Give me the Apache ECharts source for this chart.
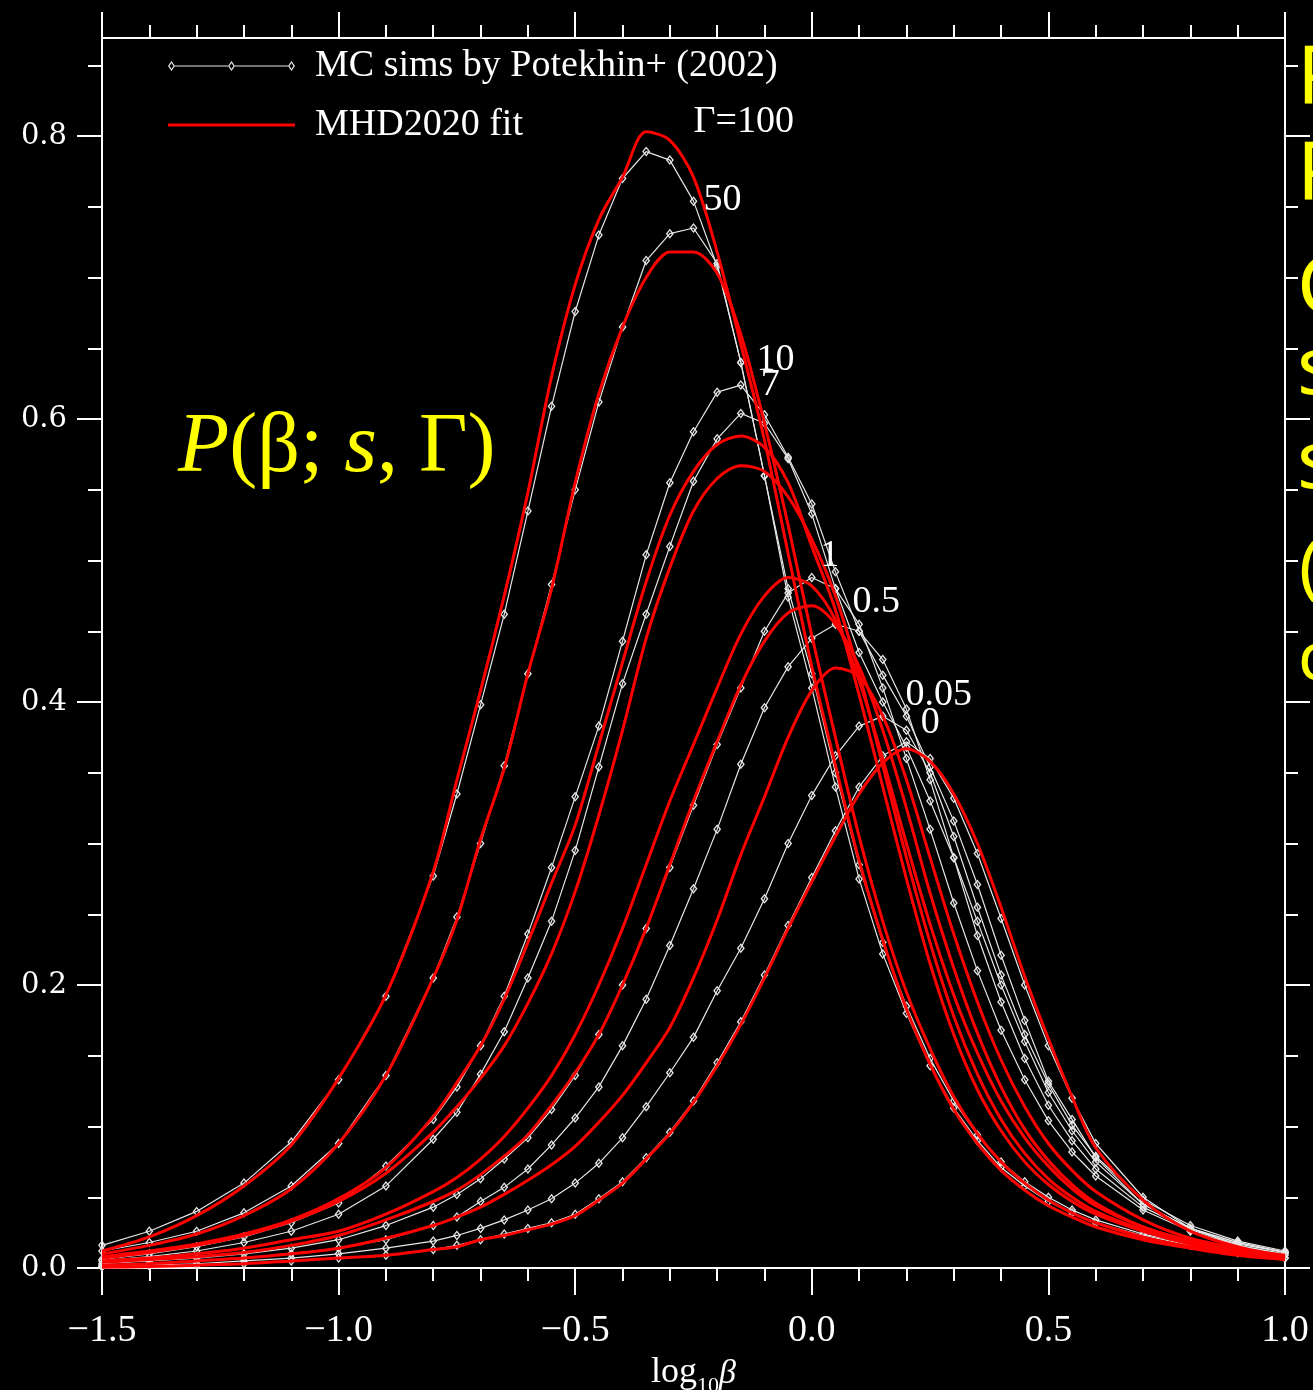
<!DOCTYPE html>
<html><head><meta charset="utf-8">
<script src="https://cdn.jsdelivr.net/npm/echarts@6/dist/echarts.min.js"></script>
<style>html,body{margin:0;padding:0;background:#000;}#c{width:1313px;height:1390px;}</style>
</head><body><div id="c"></div>
<script>
// shared abscissa grid: log10(beta)
const logBeta = [-1.5,-1.4,-1.3,-1.2,-1.1,-1.0,-0.9,-0.8,-0.75,-0.7,-0.65,-0.6,-0.55,-0.5,-0.45,-0.4,-0.35,-0.3,-0.25,-0.2,-0.15,-0.1,-0.05,0,0.05,0.1,0.15,0.2,0.25,0.3,0.35,0.4,0.45,0.5,0.55,0.6,0.7,0.8,0.9,1.0];

// MC simulations (Potekhin+ 2002)
const mc100 = [0.016,0.026,0.040,0.060,0.089,0.133,0.192,0.277,0.335,0.398,0.462,0.535,0.609,0.676,0.730,0.770,0.789,0.783,0.754,0.708,0.640,0.560,0.474,0.410,0.340,0.275,0.222,0.180,0.143,0.113,0.090,0.071,0.058,0.047,0.039,0.032,0.023,0.016,0.011,0.007];
const mc50  = [0.012,0.018,0.026,0.039,0.058,0.088,0.136,0.205,0.248,0.300,0.355,0.420,0.483,0.550,0.612,0.665,0.712,0.731,0.735,0.710,0.640,0.560,0.480,0.420,0.350,0.285,0.230,0.185,0.148,0.118,0.094,0.075,0.061,0.050,0.041,0.034,0.024,0.017,0.011,0.007];
const mc10  = [0.006,0.010,0.015,0.022,0.032,0.046,0.072,0.105,0.128,0.157,0.192,0.236,0.283,0.333,0.383,0.443,0.504,0.555,0.591,0.619,0.624,0.603,0.573,0.540,0.492,0.450,0.419,0.390,0.354,0.316,0.271,0.221,0.175,0.132,0.105,0.078,0.045,0.028,0.018,0.011];
const mc7   = [0.005,0.008,0.012,0.018,0.026,0.038,0.058,0.091,0.110,0.137,0.167,0.205,0.245,0.295,0.354,0.413,0.462,0.510,0.556,0.586,0.604,0.597,0.572,0.533,0.480,0.435,0.400,0.368,0.330,0.290,0.245,0.200,0.160,0.124,0.097,0.075,0.045,0.028,0.018,0.011];
const mc1   = [0.003,0.005,0.007,0.010,0.014,0.020,0.030,0.043,0.052,0.063,0.077,0.092,0.112,0.136,0.165,0.200,0.240,0.283,0.327,0.370,0.410,0.450,0.477,0.488,0.480,0.455,0.410,0.360,0.310,0.258,0.210,0.168,0.133,0.104,0.082,0.065,0.041,0.026,0.016,0.010];
const mc05  = [0.002,0.003,0.005,0.007,0.010,0.014,0.020,0.030,0.036,0.047,0.057,0.070,0.087,0.106,0.128,0.157,0.190,0.228,0.268,0.310,0.356,0.396,0.425,0.445,0.455,0.450,0.430,0.395,0.345,0.290,0.235,0.188,0.148,0.115,0.090,0.070,0.043,0.027,0.017,0.011];
const mc005 = [0.001,0.002,0.003,0.005,0.007,0.010,0.014,0.019,0.023,0.028,0.034,0.041,0.049,0.060,0.074,0.092,0.114,0.138,0.163,0.196,0.226,0.261,0.300,0.334,0.362,0.383,0.390,0.380,0.350,0.305,0.255,0.207,0.165,0.130,0.101,0.079,0.048,0.030,0.019,0.012];
const mc0   = [0.001,0.0015,0.002,0.003,0.005,0.007,0.009,0.013,0.016,0.020,0.024,0.028,0.032,0.038,0.049,0.061,0.078,0.096,0.118,0.145,0.174,0.207,0.242,0.276,0.309,0.340,0.362,0.372,0.360,0.332,0.293,0.247,0.200,0.157,0.120,0.088,0.050,0.028,0.016,0.009];

// MHD2020 fit
const fit100 = [0.012,0.022,0.037,0.058,0.087,0.134,0.193,0.280,0.345,0.408,0.475,0.548,0.630,0.695,0.741,0.771,0.803,0.797,0.771,0.718,0.653,0.585,0.505,0.425,0.355,0.288,0.232,0.183,0.144,0.112,0.088,0.069,0.055,0.044,0.036,0.029,0.020,0.014,0.009,0.006];
const fit50  = [0.010,0.016,0.024,0.037,0.056,0.088,0.136,0.205,0.246,0.303,0.353,0.420,0.480,0.555,0.618,0.665,0.700,0.718,0.718,0.703,0.660,0.597,0.525,0.447,0.375,0.305,0.245,0.195,0.155,0.121,0.095,0.075,0.060,0.048,0.039,0.032,0.022,0.015,0.010,0.006];
const fit10  = [0.008,0.012,0.017,0.024,0.034,0.049,0.071,0.107,0.131,0.157,0.190,0.230,0.272,0.313,0.370,0.428,0.485,0.532,0.563,0.582,0.588,0.580,0.555,0.510,0.465,0.405,0.340,0.275,0.215,0.165,0.126,0.097,0.075,0.059,0.047,0.038,0.026,0.017,0.011,0.007];
const fit7   = [0.007,0.011,0.016,0.023,0.033,0.047,0.067,0.096,0.114,0.134,0.157,0.187,0.222,0.266,0.320,0.380,0.445,0.495,0.535,0.558,0.567,0.563,0.545,0.515,0.475,0.420,0.355,0.290,0.230,0.178,0.137,0.105,0.081,0.063,0.050,0.040,0.027,0.018,0.012,0.007];
const fit1   = [0.005,0.007,0.010,0.014,0.020,0.026,0.038,0.054,0.064,0.077,0.093,0.113,0.136,0.165,0.200,0.240,0.285,0.330,0.370,0.410,0.448,0.475,0.488,0.482,0.458,0.415,0.360,0.300,0.243,0.193,0.152,0.118,0.092,0.072,0.056,0.044,0.029,0.019,0.012,0.007];
const fit05  = [0.004,0.006,0.008,0.011,0.016,0.023,0.034,0.047,0.055,0.066,0.079,0.094,0.115,0.138,0.165,0.200,0.240,0.285,0.330,0.372,0.412,0.443,0.463,0.468,0.455,0.425,0.380,0.325,0.265,0.212,0.166,0.128,0.098,0.076,0.059,0.046,0.029,0.019,0.012,0.008];
const fit005 = [0.002,0.003,0.005,0.007,0.010,0.014,0.021,0.030,0.036,0.043,0.052,0.062,0.073,0.086,0.103,0.122,0.145,0.170,0.205,0.246,0.292,0.333,0.375,0.408,0.424,0.418,0.390,0.345,0.290,0.236,0.188,0.147,0.114,0.088,0.069,0.054,0.034,0.021,0.014,0.009];
const fit0   = [0.0005,0.001,0.002,0.003,0.005,0.007,0.009,0.013,0.015,0.020,0.023,0.027,0.031,0.037,0.048,0.060,0.077,0.095,0.117,0.143,0.172,0.205,0.240,0.273,0.305,0.335,0.357,0.367,0.358,0.335,0.300,0.255,0.206,0.162,0.121,0.085,0.048,0.026,0.015,0.008];

// curve annotations (Gamma values)
const annText = ['Γ=100','50','10','7','1','0.5','0.05','0'];
const annX = [-0.251,-0.230,-0.118,-0.109,0.017,0.085,0.197,0.229];
const annY = [0.810,0.755,0.642,0.624,0.503,0.471,0.405,0.385];

// axis ticks
const xMajor = 0.5;
const yMajorTicks = [0,0.2,0.4,0.6,0.8];
const yMinorTicks = [0.05,0.1,0.15,0.25,0.3,0.35,0.45,0.5,0.55,0.65,0.7,0.75,0.85];
const yMax = 0.8693;

const MC_NAME = 'MC sims by Potekhin+ (2002)';
const FIT_NAME = 'MHD2020 fit';
const mcSets = [mc100, mc50, mc10, mc7, mc1, mc05, mc005, mc0];
const fitSets = [fit100, fit50, fit10, fit7, fit1, fit05, fit005, fit0];

const hollowDiamond = 'path://M0,-5L3.5,0L0,5L-3.5,0Z M0,-3L-2,0L0,3L2,0Z';
const pair = arr => arr.map((v,i) => [logBeta[i], v]);
const series = [];
mcSets.forEach(arr => series.push({
  type:'line', name: MC_NAME, data: pair(arr), xAxisIndex:0, yAxisIndex:0,
  symbol: hollowDiamond, symbolSize:[8,10], showAllSymbol:true,
  lineStyle:{color:'#e6e6e6', width:1.2}, itemStyle:{color:'#e6e6e6'},
  z:2, animation:false
}));
fitSets.forEach(arr => series.push({
  type:'line', name: FIT_NAME, data: pair(arr), xAxisIndex:0, yAxisIndex:0,
  symbol:'none', smooth:0.3,
  lineStyle:{color:'#ff0000', width:3}, itemStyle:{color:'#ff0000'},
  z:3, animation:false
}));
series.push({
  type:'scatter', name:'ann', symbolSize:1, z:5, animation:false, silent:true,
  itemStyle:{color:'rgba(0,0,0,0)', opacity:1},
  data: annText.map((t,i) => ({value:[annX[i], annY[i]], name:t})),
  label:{show:true, position:'right', distance:0, formatter:p=>p.name, opacity:1,
    color:'#ffffff', fontFamily:'Liberation Serif', fontSize:38}
});

const axisLine = {show:true, onZero:false, lineStyle:{color:'#ffffff', width:2}};
const noLine = {show:false, onZero:false};
const xBase = {type:'value', min:-1.5, max:1.0, interval:xMajor, splitLine:{show:false}};
const yBase = {type:'value', min:0, max:yMax, splitLine:{show:false}};

// legend icons (thin red line; white line with three hollow diamonds)
const iconFit = 'path://M0,0L0.01,0L0.01,0.01Z M0,3.5L127,3.5L127,6.5L0,6.5Z M0,10L0.01,10L0.01,9.99Z';
const dia = x => `M${x},0L${x+3.5},5L${x},10L${x-3.5},5Z M${x},2L${x-2},5L${x},8L${x+2},5Z`;
const iconMC = 'path://' + dia(3.5) + ' ' + dia(63.5) + ' ' + dia(123.5) +
  ' M7,4.4L60,4.4L60,5.6L7,5.6Z M67,4.4L120,4.4L120,5.6L67,5.6Z';

const option = {
  backgroundColor:'#000000',
  animation:false,
  grid:{left:102, right:28, top:38, bottom:122, containLabel:false, outerBoundsMode:'none'},
  legend:{
    data:[{name:MC_NAME, icon:iconMC},{name:FIT_NAME, icon:iconFit}],
    orient:'vertical', left:168, top:47, padding:0, itemWidth:127, itemHeight:10, itemGap:21,
    selectedMode:false,
    textStyle:{color:'#ffffff', fontFamily:'Liberation Serif', fontSize:38, lineHeight:38, padding:[0,0,0,15]}
  },
  xAxis:[
    Object.assign({}, xBase, {position:'bottom', axisLine,
      axisTick:{show:true, inside:false, length:27, lineStyle:{color:'#fff', width:2}},
      minorTick:{show:true, splitNumber:5, length:13, lineStyle:{color:'#fff', width:2}},
      axisLabel:{show:true, margin:44, color:'#ffffff', fontFamily:'Liberation Serif', fontSize:38,
        formatter:v => (v < 0 ? '\u2212' : '') + Math.abs(v).toFixed(1)},
      name:'{a|log}{b|10}{c|β}', nameLocation:'middle', nameGap:70,
      nameTextStyle:{color:'#fff', rich:{
        a:{fontFamily:'Liberation Serif', fontSize:36, color:'#fff', verticalAlign:'bottom', lineHeight:40},
        b:{fontFamily:'Liberation Serif', fontSize:22, color:'#fff', verticalAlign:'bottom', lineHeight:40, padding:[0,0,-6,0]},
        c:{fontFamily:'Liberation Serif', fontSize:34, fontStyle:'italic', color:'#fff', verticalAlign:'bottom', lineHeight:40}
      }}
    }),
    Object.assign({}, xBase, {position:'top', axisLine,
      axisTick:{show:true, inside:false, length:26, lineStyle:{color:'#fff', width:2}},
      minorTick:{show:true, splitNumber:5, length:13, lineStyle:{color:'#fff', width:2}},
      axisLabel:{show:false}})
  ],
  yAxis:[
    Object.assign({}, yBase, {position:'left', axisLine,
      axisTick:{show:true, inside:false, length:25, customValues:yMajorTicks, lineStyle:{color:'#fff', width:2}},
      axisLabel:{show:true, margin:35, customValues:yMajorTicks, color:'#ffffff', fontFamily:'DejaVu Serif', fontSize:29,
        padding:[8,0,0,0], formatter:v => v.toFixed(1)}}),
    Object.assign({}, yBase, {position:'left', axisLine:noLine,
      axisTick:{show:true, inside:false, length:14, customValues:yMinorTicks, lineStyle:{color:'#fff', width:2}},
      axisLabel:{show:false}}),
    Object.assign({}, yBase, {position:'right', axisLine,
      axisTick:{show:true, inside:false, length:25, customValues:yMajorTicks, lineStyle:{color:'#fff', width:2}},
      axisLabel:{show:false}}),
    Object.assign({}, yBase, {position:'right', axisLine:noLine,
      axisTick:{show:true, inside:false, length:13, customValues:yMinorTicks, lineStyle:{color:'#fff', width:2}},
      axisLabel:{show:false}})
  ],
  graphic:[
    {type:'text', x:178, y:449, z:10, style:{
      text:'{i|P}(β; {i|s}, Γ)', fill:'#ffff00', fontFamily:'Liberation Serif', fontSize:84,
      verticalAlign:'middle', align:'left',
      rich:{i:{fontFamily:'Liberation Serif', fontSize:84, fontStyle:'italic', fill:'#ffff00'}}}},
    {type:'text', x:1297, y:80, style:{text:'P', fill:'#ffff00', fontFamily:'Noto Sans', fontSize:81, verticalAlign:'middle'}},
    {type:'text', x:1297, y:176, style:{text:'P', fill:'#ffff00', fontFamily:'Noto Sans', fontSize:81, verticalAlign:'middle'}},
    {type:'text', x:1297, y:290, style:{text:'C', fill:'#ffff00', fontFamily:'Noto Sans', fontSize:81, verticalAlign:'middle'}},
    {type:'text', x:1297, y:371, style:{text:'s', fill:'#ffff00', fontFamily:'Noto Sans', fontSize:81, verticalAlign:'middle'}},
    {type:'text', x:1297, y:465, style:{text:'s', fill:'#ffff00', fontFamily:'Noto Sans', fontSize:81, verticalAlign:'middle'}},
    {type:'text', x:1299, y:571, style:{text:'(', fill:'#ffff00', fontFamily:'Noto Sans', fontSize:70, verticalAlign:'middle'}},
    {type:'text', x:1298, y:661, style:{text:'c', fill:'#ffff00', fontFamily:'Noto Sans', fontSize:67, verticalAlign:'middle'}}
  ],
  series
};
const chart = echarts.init(document.getElementById('c'), null, {renderer:'canvas'});
chart.setOption(option);
</script></body></html>
